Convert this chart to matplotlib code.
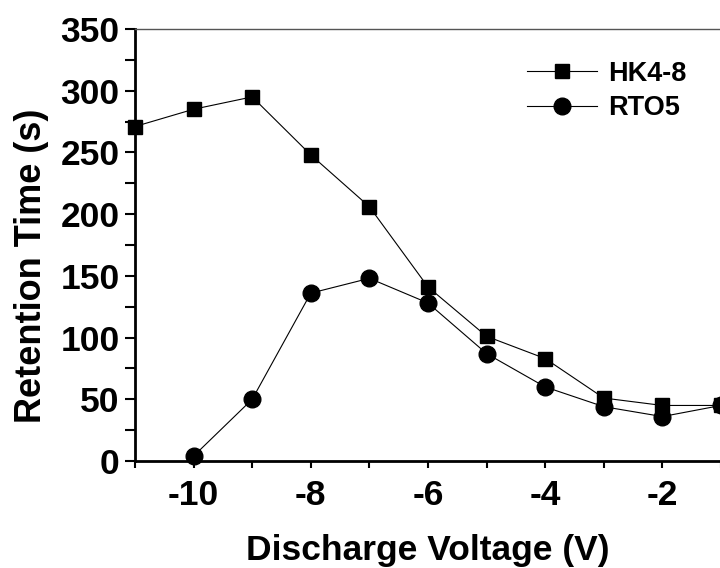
import matplotlib
matplotlib.use('Agg')
import matplotlib.pyplot as plt
from matplotlib.ticker import MultipleLocator

plt.rcParams['font.family'] = ['Liberation Sans', 'DejaVu Sans']
plt.rcParams['font.weight'] = 'bold'
plt.rcParams['axes.unicode_minus'] = False

voltage = [-11, -10, -9, -8, -7, -6, -5, -4, -3, -2, -1]
hk4_8 = [271, 285, 295, 248, 206, 141, 101, 83, 51, 45, 45]
rto5_voltage = [-10, -9, -8, -7, -6, -5, -4, -3, -2, -1]
rto5 = [4, 50, 136, 148, 128, 87, 60, 44, 36, 45]

fig = plt.figure(figsize=(7.2, 5.68), dpi=100)
ax = fig.add_axes([135/720, (568-461)/568, 586/720, 432/568])

ax.plot(voltage, hk4_8, color='black', lw=0.8, marker='s', markersize=10.5,
        label='HK4-8', clip_on=False)
ax.plot(rto5_voltage, rto5, color='black', lw=0.8, marker='o', markersize=12,
        label='RTO5', clip_on=False)

ax.set_xlim(-11, -1)
ax.set_ylim(0, 350)
ax.xaxis.set_major_locator(MultipleLocator(2))
ax.xaxis.set_minor_locator(MultipleLocator(1))
ax.yaxis.set_major_locator(MultipleLocator(50))
ax.yaxis.set_minor_locator(MultipleLocator(25))
ax.set_xticks([-10, -8, -6, -4, -2])

ax.tick_params(which='both', direction='out', width=1.5, labelsize=25.5, pad=4)
ax.tick_params(axis='y', which='both', length=7)
ax.tick_params(axis='x', which='both', length=5, pad=8)
for lbl in ax.get_xticklabels() + ax.get_yticklabels():
    lbl.set_fontweight('bold')

ax.spines['left'].set_linewidth(2)
ax.spines['bottom'].set_linewidth(2)
ax.spines['top'].set_linewidth(1)
ax.spines['top'].set_color('#555555')
ax.spines['right'].set_visible(False)

ax.set_xlabel('Discharge Voltage (V)', fontsize=25.5, fontweight='bold', labelpad=15.5)
ax.set_ylabel('Retention Time (s)', fontsize=26, fontweight='bold')
ax.yaxis.set_label_coords(-0.146, 0.451)

ax.legend(loc='upper left', bbox_to_anchor=(0.669, 0.926), frameon=False,
          borderpad=0, borderaxespad=0,
          handlelength=2.6, handletextpad=0.4, labelspacing=0.3,
          prop={'weight': 'bold', 'size': 19.5})

fig.savefig('out.png', dpi=100)
